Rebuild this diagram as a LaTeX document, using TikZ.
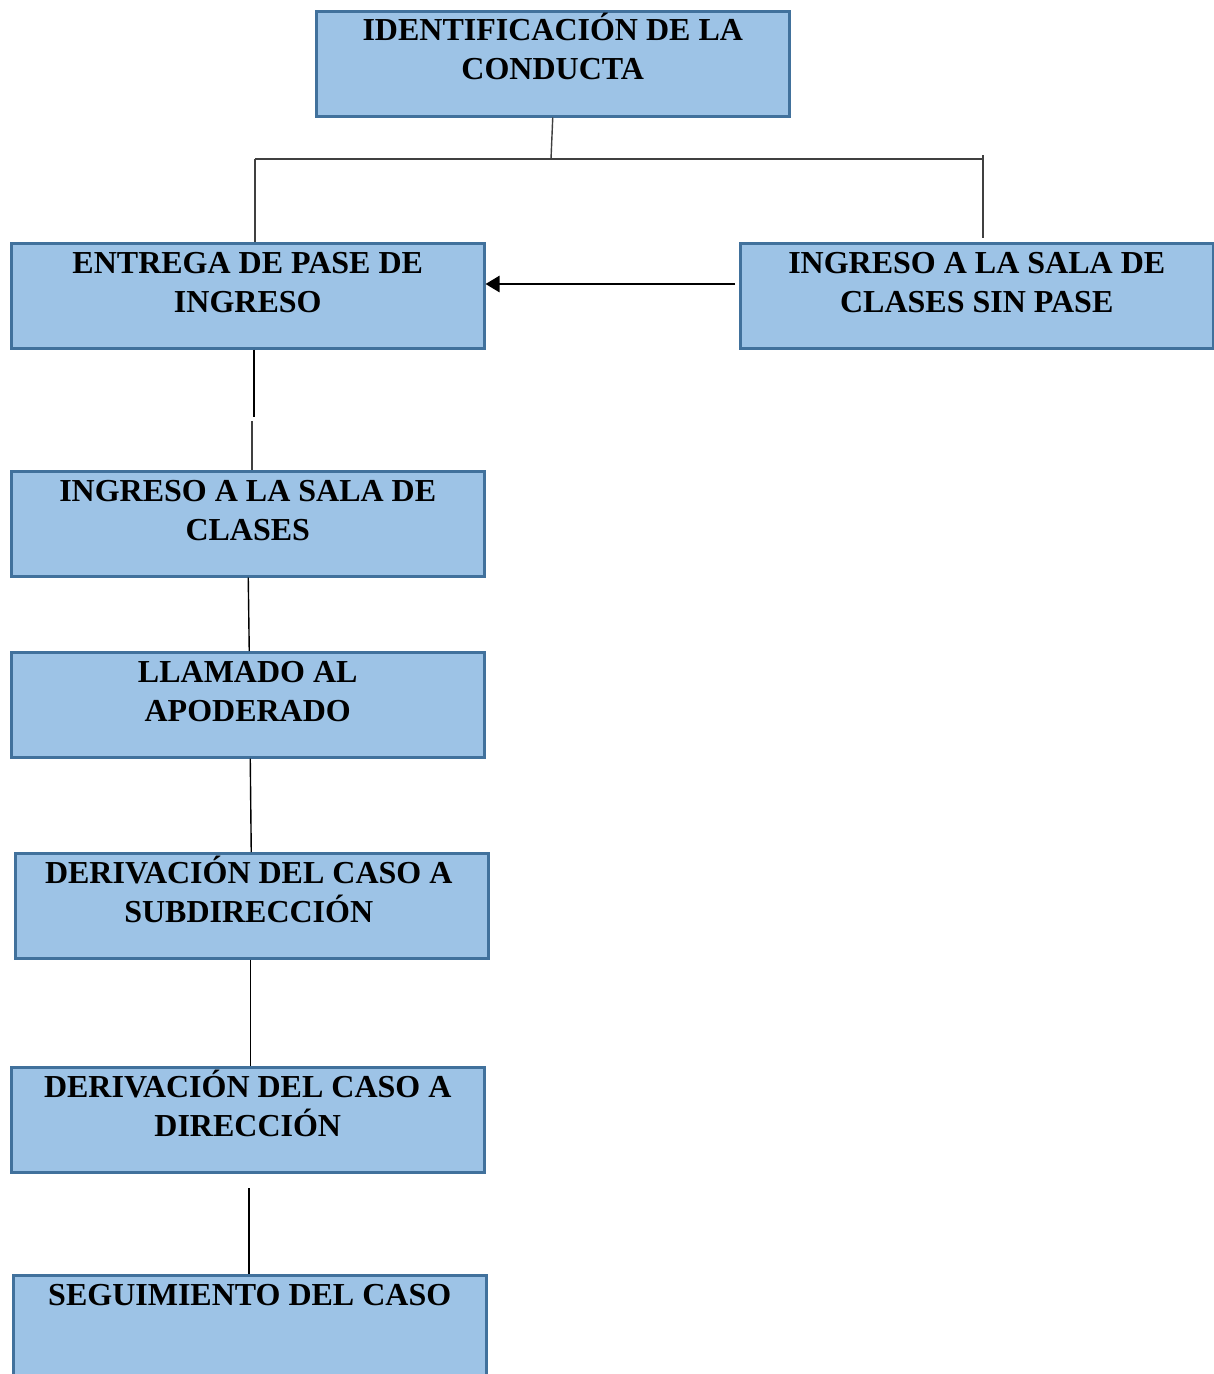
\documentclass[tikz,border=0pt]{standalone}
\usepackage{fontspec}
\setmainfont{Liberation Serif}
\usetikzlibrary{arrows.meta,calc}
\definecolor{boxfill}{HTML}{9DC3E6}
\definecolor{boxdraw}{HTML}{41719C}
\definecolor{conngray}{HTML}{404040}
\tikzset{
  flowbox/.style={rectangle, draw=boxdraw, fill=boxfill, line width=2.5pt,
    minimum width=473pt, minimum height=105pt, inner sep=0pt, anchor=north west},
  boxtext/.style={font=\fontsize{32}{39}\selectfont\bfseries, align=center,
    inner sep=0pt, anchor=north, text=black},
  conn/.style={draw=conngray, line width=1.4pt},
  bigarrow/.style={draw=black, line width=2.6pt, -{Triangle[length=14pt,width=16pt]}}
}
\newcommand{\toprule}{\rule{0pt}{30pt}}
\begin{document}
\begin{tikzpicture}[x=1pt,y=-1pt]
\useasboundingbox (0,0) rectangle (1214,1374);
\clip (0,0) rectangle (1214,1374);
% boxes
\node[flowbox] (ident) at (315,10) {};
\node[flowbox] (entrega) at (10,242) {};
\node[flowbox] (sinpase) at (739,242) {};
\node[flowbox] (ingreso) at (10,470) {};
\node[flowbox] (llamado) at (10,651) {};
\node[flowbox] (subdir) at (14,852) {};
\node[flowbox] (dir) at (10,1066) {};
\node[flowbox, minimum height=140pt] (seguim) at (12,1274) {};
% texts
\node[boxtext] (identT) at ($(ident.north)+(0,0)$) {\toprule IDENTIFICACIÓN DE LA\\CONDUCTA};
\node[boxtext] (entregaT) at ($(entrega.north)+(0,1)$) {\toprule ENTREGA DE PASE DE\\INGRESO};
\node[boxtext] (sinpaseT) at ($(sinpase.north)+(0,1)$) {\toprule INGRESO A LA SALA DE\\CLASES SIN PASE};
\node[boxtext] (ingresoT) at ($(ingreso.north)+(0,1)$) {\toprule INGRESO A LA SALA DE\\CLASES};
\node[boxtext] (llamadoT) at ($(llamado.north)+(0,1)$) {\toprule LLAMADO AL\\APODERADO};
\node[boxtext] (subdirT) at ($(subdir.north)+(-3,1)$) {\toprule DERIVACIÓN DEL CASO A\\SUBDIRECCIÓN};
\node[boxtext] (dirT) at ($(dir.north)+(0,1)$) {\toprule DERIVACIÓN DEL CASO A\\DIRECCIÓN};
\node[boxtext] (seguimT) at ($(seguim.north)+(0,1)$) {\toprule SEGUIMIENTO DEL CASO};
% connector points
\coordinate (jc) at (551,159);
\coordinate (jl) at (255,159);
\coordinate (jr) at (983,159);
\coordinate (jrtop) at (983,155);
\coordinate (jrbot) at (983,238);
\coordinate (e1) at (254,417);
\coordinate (e2) at (252,421);
\coordinate (d1) at (249,1188);
\coordinate (arrS) at (735,284);
% connectors
\draw[conn] (ident.south) -- (jc);
\draw[conn] (jl) -- (jr);
\draw[conn] (jl) -- (jl |- entrega.north);
\draw[conn] (jrtop) -- (jrbot);
\draw[bigarrow] (arrS) -- (arrS -| entrega.east);
\draw[conn, draw=black] (e1 |- entrega.south) -- (e1);
\draw[conn] (e2) -- (e2 |- ingreso.north);
\draw[conn, draw=black] ($(ingreso.south)+(0.5,0)$) -- ($(llamado.north)+(1.5,0)$);
\draw[conn, draw=black] ($(llamado.south)+(2.5,0)$) -- ($(subdir.north)+(-0.5,0)$);
\draw[conn, draw=black] ($(subdir.south)+(-1.5,0)$) -- ($(dir.north)+(2.5,0)$);
\draw[conn, draw=black] (d1) -- (d1 |- seguim.north);
\end{tikzpicture}
\end{document}
